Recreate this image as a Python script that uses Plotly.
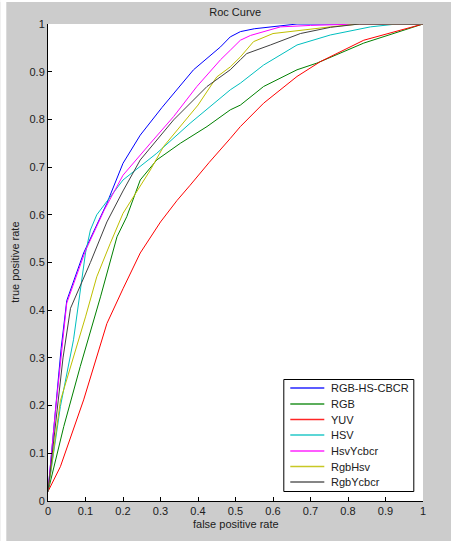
import plotly.graph_objects as go

W, H = 451, 541
L, R, T, B = 47.7, 451 - 422.7, 24, 541 - 501

names = ["RGB-HS-CBCR", "RGB", "YUV", "HSV", "HsvYcbcr", "RgbHsv", "RgbYcbcr"]
colors = ["#0000ff", "#008000", "#ff0000", "#00bfbf", "#ff00ff", "#bfbf00", "#404040"]

fpr_rgbhscbcr = [0, 0.02, 0.035, 0.05, 0.095, 0.157, 0.2, 0.246, 0.304, 0.388, 0.46, 0.486, 0.513, 0.55, 0.6, 0.664, 0.8, 1.0]
tpr_rgbhscbcr = [0.02, 0.2, 0.32, 0.42, 0.52, 0.624, 0.708, 0.767, 0.825, 0.904, 0.952, 0.973, 0.984, 0.99, 0.995, 1.0, 1.0, 1.0]

fpr_rgb = [0, 0.042, 0.086, 0.14, 0.184, 0.21, 0.246, 0.273, 0.29, 0.353, 0.424, 0.486, 0.513, 0.575, 0.664, 0.717, 0.842, 1.0]
tpr_rgb = [0.02, 0.156, 0.282, 0.428, 0.554, 0.596, 0.673, 0.70, 0.715, 0.75, 0.785, 0.82, 0.83, 0.869, 0.904, 0.918, 0.96, 1.0]

fpr_yuv = [0, 0.033, 0.095, 0.157, 0.2, 0.246, 0.3, 0.344, 0.379, 0.43, 0.486, 0.513, 0.575, 0.664, 0.726, 0.842, 1.0]
tpr_yuv = [0.02, 0.072, 0.212, 0.372, 0.445, 0.52, 0.585, 0.63, 0.662, 0.71, 0.76, 0.785, 0.834, 0.89, 0.921, 0.966, 1.0]

fpr_hsv = [0, 0.033, 0.068, 0.1, 0.113, 0.13, 0.2, 0.29, 0.379, 0.486, 0.513, 0.575, 0.664, 0.753, 0.86, 0.93, 1.0]
tpr_hsv = [0.02, 0.198, 0.338, 0.52, 0.568, 0.6, 0.673, 0.729, 0.792, 0.862, 0.876, 0.914, 0.956, 0.977, 0.994, 1.0, 1.0]

fpr_hsvycbcr = [0, 0.02, 0.05, 0.1, 0.15, 0.2, 0.273, 0.335, 0.397, 0.46, 0.486, 0.513, 0.54, 0.62, 0.7, 0.83, 1.0]
tpr_hsvycbcr = [0.02, 0.19, 0.415, 0.525, 0.61, 0.683, 0.75, 0.806, 0.869, 0.925, 0.945, 0.966, 0.976, 0.994, 0.997, 1.0, 1.0]

fpr_rgbhsv = [0, 0.033, 0.1, 0.13, 0.166, 0.2, 0.273, 0.308, 0.4, 0.45, 0.486, 0.513, 0.548, 0.6, 0.753, 0.83, 1.0]
tpr_rgbhsv = [0.02, 0.21, 0.386, 0.47, 0.54, 0.603, 0.694, 0.743, 0.83, 0.889, 0.91, 0.931, 0.963, 0.98, 0.994, 1.0, 1.0]

fpr_rgbycbcr = [0, 0.02, 0.04, 0.06, 0.113, 0.157, 0.2, 0.246, 0.335, 0.424, 0.486, 0.513, 0.53, 0.593, 0.673, 0.753, 0.83, 1.0]
tpr_rgbycbcr = [0.02, 0.16, 0.3, 0.404, 0.50, 0.585, 0.65, 0.715, 0.799, 0.869, 0.904, 0.925, 0.938, 0.956, 0.98, 0.993, 1.0, 1.0]

series = [
    (fpr_rgbhscbcr, tpr_rgbhscbcr),
    (fpr_rgb, tpr_rgb),
    (fpr_yuv, tpr_yuv),
    (fpr_hsv, tpr_hsv),
    (fpr_hsvycbcr, tpr_hsvycbcr),
    (fpr_rgbhsv, tpr_rgbhsv),
    (fpr_rgbycbcr, tpr_rgbycbcr),
]

tick_vals = [0, 0.1, 0.2, 0.3, 0.4, 0.5, 0.6, 0.7, 0.8, 0.9, 1]
tick_text = ["0", "0.1", "0.2", "0.3", "0.4", "0.5", "0.6", "0.7", "0.8", "0.9", "1"]

FONT = "Liberation Sans, Arial, sans-serif"
TXT = "#202020"

fig = go.Figure()
for name, color, (xs, ys) in zip(names, colors, series):
    fig.add_trace(go.Scatter(x=xs, y=ys, mode="lines", name=name,
                             line=dict(color=color, width=1), showlegend=False,
                             hoverinfo="skip"))

pw = W - L - R
ph = H - T - B

def px(x):
    return (x - L) / pw

def py(y):
    return (H - B - y) / ph

axis_common = dict(range=[0, 1], tickmode="array", tickvals=tick_vals, ticktext=tick_text,
                   showgrid=False, zeroline=False, showline=True, linecolor="black",
                   linewidth=1, ticks="inside", ticklen=4, tickcolor="black",
                   tickfont=dict(family=FONT, size=11, color=TXT), mirror=False)

annotations = [
    dict(text="false positive rate", xref="paper", yref="paper", x=0.5,
         y=py(524), xanchor="center", yanchor="middle", showarrow=False,
         font=dict(family=FONT, size=11, color=TXT)),
    dict(text="true positive rate", xref="paper", yref="paper", x=px(14),
         y=0.5, xanchor="center", yanchor="middle", showarrow=False, textangle=-90,
         font=dict(family=FONT, size=11, color=TXT)),
]
shapes = [
    dict(type="rect", xref="paper", yref="paper", x0=px(0), x1=px(6),
         y0=py(H), y1=py(0), fillcolor="white", line=dict(width=0), layer="below"),
    dict(type="rect", xref="paper", yref="paper", x0=px(0), x1=px(W),
         y0=py(2), y1=py(0), fillcolor="white", line=dict(width=0), layer="below"),
    # legend box
    dict(type="rect", xref="paper", yref="paper", x0=px(283.5), x1=px(413.5),
         y0=py(491.5), y1=py(379.5), fillcolor="white",
         line=dict(color="black", width=1), layer="above"),
]
leg_y = [388.0, 404.0, 419.5, 435.0, 451.0, 466.5, 482.0]
for yy, name, color in zip(leg_y, names, colors):
    shapes.append(dict(type="line", xref="paper", yref="paper", x0=px(290), x1=px(324),
                       y0=py(yy), y1=py(yy), line=dict(color=color, width=1.6), layer="above",
                       opacity=0.85))
    annotations.append(dict(text=name, xref="paper", yref="paper", x=px(328.5), y=py(yy),
                            xanchor="left", yanchor="middle", showarrow=False,
                            font=dict(family=FONT, size=11, color=TXT)))

fig.update_layout(
    width=W, height=H,
    margin=dict(l=L, r=R, t=T, b=B, pad=0),
    paper_bgcolor="#cccccc",
    plot_bgcolor="white",
    font=dict(family=FONT, size=11, color=TXT),
    title=dict(text="Roc Curve", x=(L + pw / 2) / W, xanchor="center",
               y=1 - 12 / H, yanchor="middle", font=dict(family=FONT, size=11, color=TXT)),
    xaxis=axis_common,
    yaxis=axis_common,
    showlegend=False,
    hovermode=False,
    annotations=annotations,
    shapes=shapes,
)

fig.write_html("out.html", config={"displayModeBar": False, "staticPlot": True},
               post_script="document.body.style.margin='0px';document.body.style.overflow='hidden';"
                           "document.body.style.background='#cccccc';"
                           "document.documentElement.style.background='#cccccc';")
